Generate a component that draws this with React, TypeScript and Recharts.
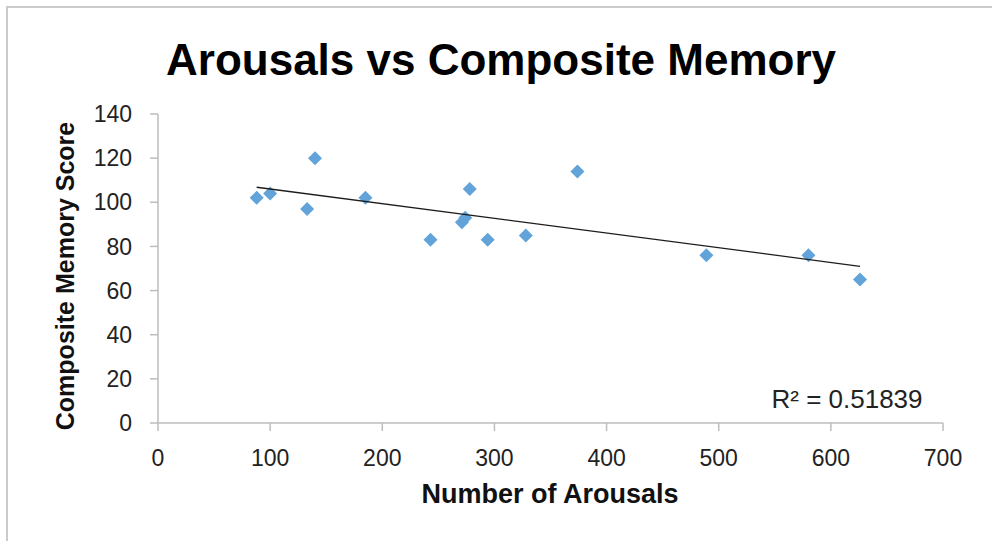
import React from "react";
import { ScatterChart, Scatter, XAxis, YAxis } from "recharts";

// number of arousals per subject and the matching composite memory score
const arousals = [88, 100, 140, 133, 185, 243, 278, 274, 271, 294, 328, 374, 489, 580, 626];
const memoryScores = [102, 104, 120, 97, 102, 83, 106, 93, 91, 83, 85, 114, 76, 76, 65];

const xTicks = [0, 100, 200, 300, 400, 500, 600, 700];
const yTicks = [0, 20, 40, 60, 80, 100, 120, 140];

const points = arousals.map((x, i) => ({ x, y: memoryScores[i] }));

// least squares fit, drawn from the smallest to the largest x
const fitLine = () => {
  const n = arousals.length;
  const mx = arousals.reduce((a, b) => a + b, 0) / n;
  const my = memoryScores.reduce((a, b) => a + b, 0) / n;
  let sxy = 0;
  let sxx = 0;
  arousals.forEach((x, i) => {
    sxy += (x - mx) * (memoryScores[i] - my);
    sxx += (x - mx) * (x - mx);
  });
  const slope = sxy / sxx;
  const icpt = my - slope * mx;
  const lo = Math.min(...arousals);
  const hi = Math.max(...arousals);
  return [
    { x: lo, y: icpt + slope * lo },
    { x: hi, y: icpt + slope * hi },
  ];
};

const trend = fitLine();

const Diamond = (props: any) => {
  const { cx, cy } = props;
  const r = 7;
  return (
    <polygon
      points={`${cx},${cy - r} ${cx + r},${cy} ${cx},${cy + r} ${cx - r},${cy}`}
      fill="#62A3DA"
    />
  );
};

const NoDot = () => <g />;

const tickStyle = { fill: "#222", fontSize: 23, fontFamily: "Liberation Sans, Arial, sans-serif" };
const axisGray = "#BDBDBD";

export default function App() {
  return (
    <div style={{ position: "absolute", left: 0, top: 0, width: 992, height: 541, background: "#fff" }}>
      <div
        style={{
          position: "absolute",
          left: 6,
          top: 6,
          width: 986,
          height: 535,
          borderTop: "2px solid #CBCBCB",
          borderLeft: "2px solid #CBCBCB",
          boxSizing: "border-box",
        }}
      />
      <ScatterChart
        width={992}
        height={541}
        margin={{ top: 114, right: 49, left: 98, bottom: 88 }}
        style={{ position: "absolute", left: 0, top: 0 }}
      >
        <XAxis
          type="number"
          dataKey="x"
          domain={[0, 700]}
          ticks={xTicks}
          height={30}
          tickSize={8}
          tickMargin={19}
          stroke={axisGray}
          strokeWidth={1.5}
          tick={tickStyle}
        />
        <YAxis
          type="number"
          dataKey="y"
          domain={[0, 140]}
          ticks={yTicks}
          width={60}
          tickSize={8}
          tickMargin={18}
          stroke={axisGray}
          strokeWidth={1.5}
          tick={tickStyle}
        />
        <Scatter data={points} shape={Diamond} isAnimationActive={false} />
        <Scatter
          data={trend}
          line={{ stroke: "#1c1c1c", strokeWidth: 1.3 }}
          shape={NoDot}
          isAnimationActive={false}
        />
      </ScatterChart>
      <svg
        width={992}
        height={541}
        style={{ position: "absolute", left: 0, top: 0, pointerEvents: "none" }}
        fontFamily="Liberation Sans, Arial, sans-serif"
      >
        <text x={501} y={75} textAnchor="middle" fontSize={44} fontWeight="bold" fill="#000">
          Arousals vs Composite Memory
        </text>
        <text x={550} y={503} textAnchor="middle" fontSize={27} fontWeight="bold" fill="#111">
          Number of Arousals
        </text>
        <text
          x={74}
          y={276}
          textAnchor="middle"
          fontSize={25}
          fontWeight="bold"
          fill="#111"
          transform="rotate(-90 74 276)"
        >
          Composite Memory Score
        </text>
        <text x={847} y={408} textAnchor="middle" fontSize={26} fill="#222">
          R² = 0.51839
        </text>
      </svg>
    </div>
  );
}
